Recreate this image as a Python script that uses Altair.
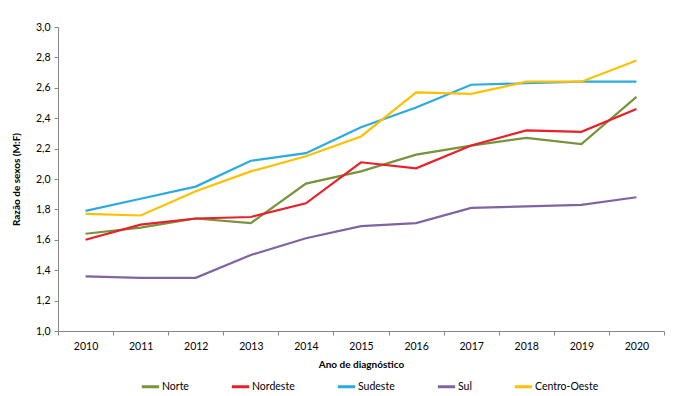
import altair as alt
import pandas as pd

years = [str(y) for y in range(2010, 2021)]
regions = ["Norte", "Nordeste", "Sudeste", "Sul", "Centro-Oeste"]
colors = ["#77933C", "#E8202A", "#29ABE2", "#8064A2", "#FFC000"]

norte = [1.64, 1.68, 1.74, 1.71, 1.97, 2.05, 2.16, 2.22, 2.27, 2.23, 2.54]
nordeste = [1.60, 1.70, 1.74, 1.75, 1.84, 2.11, 2.07, 2.22, 2.32, 2.31, 2.46]
sudeste = [1.79, 1.87, 1.95, 2.12, 2.17, 2.34, 2.47, 2.62, 2.63, 2.64, 2.64]
sul = [1.36, 1.35, 1.35, 1.50, 1.61, 1.69, 1.71, 1.81, 1.82, 1.83, 1.88]
centro_oeste = [1.77, 1.76, 1.92, 2.05, 2.15, 2.28, 2.57, 2.56, 2.64, 2.64, 2.78]

series = [norte, nordeste, sudeste, sul, centro_oeste]
rows = []
for name, vals in zip(regions, series):
    for y, v in zip(years, vals):
        rows.append({"Ano": y, "Região": name, "Razão": v})
df = pd.DataFrame(rows)

FONT = "Lato"

chart = alt.Chart(df).mark_line(strokeWidth=2.2).encode(
    x=alt.X("Ano:O", sort=years,
            scale=alt.Scale(paddingInner=0, paddingOuter=0),
            axis=alt.Axis(title="Ano de diagnóstico", labelAngle=0, tickBand="extent",
                          domainColor="#888888", tickColor="#888888", tickSize=4,
                          labelFont=FONT, labelFontSize=10.5, labelColor="#000000",
                          labelPadding=6, titleFont=FONT, titleFontSize=10,
                          titleFontWeight="bold", titlePadding=8, titleColor="#000000")),
    y=alt.Y("Razão:Q", scale=alt.Scale(domain=[1.0, 3.0], nice=False, zero=False),
            axis=alt.Axis(title="Razão de sexos (M:F)", values=[1.0, 1.2, 1.4, 1.6, 1.8, 2.0, 2.2, 2.4, 2.6, 2.8, 3.0],
                          labelExpr="replace(format(datum.value, '.1f'), '.', ',')",
                          grid=False, domainColor="#888888", tickColor="#888888", tickSize=4,
                          labelFont=FONT, labelFontSize=10.5, labelColor="#000000", labelPadding=4,
                          titleFont=FONT, titleFontSize=10, titleFontWeight="bold",
                          titlePadding=14, titleColor="#000000")),
    color=alt.Color("Região:N", sort=regions,
                    scale=alt.Scale(domain=regions, range=colors),
                    legend=alt.Legend(title=None, orient="none", direction="horizontal",
                                      legendX=82, legendY=349, symbolType="stroke",
                                      symbolSize=300, symbolStrokeWidth=3, labelOffset=1,
                                      columnPadding=36, labelFont=FONT, labelFontSize=10.5,
                                      labelColor="#000000")),
    order=alt.Order("Ano:O"),
).properties(
    width=606, height=304,
    autosize=alt.AutoSizeParams(type="none"),
    padding={"left": 50, "top": 19, "right": 10, "bottom": 60},
).configure_view(stroke=None)

chart.save("out.html", embed_options={"renderer": "svg", "actions": False})
